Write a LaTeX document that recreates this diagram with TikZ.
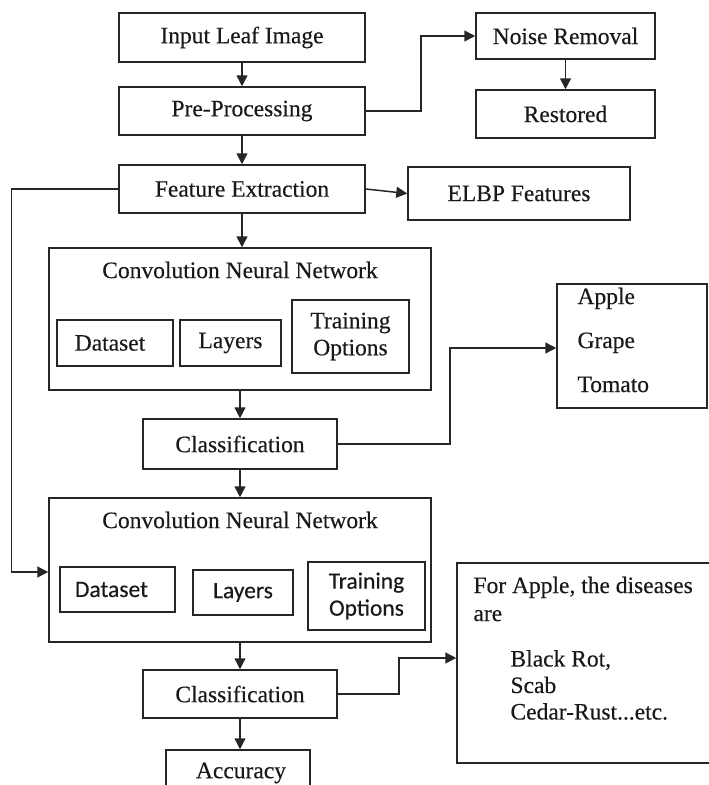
\documentclass[tikz,border=0pt]{standalone}
\usepackage{fontspec}
\setmainfont{Liberation Serif}[FakeBold=0.35]
\newfontfamily\calib{Carlito}[FakeBold=0.3]
\usetikzlibrary{arrows.meta}
\begin{document}
\begin{tikzpicture}[x=1pt,y=-1pt,
  txt/.style={font=\fontsize{23.5}{27}\selectfont, text=black!90},
  box/.style={draw=black!85, line width=1.5pt, inner sep=0pt, txt, align=center},
  conn/.style={draw=black!85, line width=1.5pt, -{Triangle[length=11pt,width=11pt]}},
  line/.style={draw=black!85, line width=1.5pt}]
\useasboundingbox (0,0) rectangle (709,785);
% top row
\node[box, minimum width=246pt, minimum height=49pt] (inp) at (242,37.5) {Input Leaf Image};
\node[box, minimum width=246pt, minimum height=48pt] (pre) at (242,111) {Pre-Processing};
\node[box, minimum width=179pt, minimum height=46pt] (noise) at (565.5,36) {Noise Removal};
\node[box, minimum width=179pt, minimum height=48pt] (rest) at (565.5,114) {Restored};
\node[box, minimum width=246pt, minimum height=48pt] (fe) at (242,189) {Feature Extraction};
\node[box, minimum width=222pt, minimum height=53pt] (elbp) at (519,193.5) {ELBP Features};
% CNN 1
\node[box, minimum width=382pt, minimum height=142pt] (cnn1) at (240,319) {};
\node[txt] (cnn1t) at (240,270) {Convolution Neural Network};
\node[box, minimum width=116pt, minimum height=46pt] (ds1) at (115,343) {\hspace*{-10pt}Dataset};
\node[box, minimum width=101pt, minimum height=46pt] (ly1) at (230.5,343) {Layers};
\node[box, minimum width=117pt, minimum height=73pt] (to1) at (350.5,336.5) {Training\\Options};
\node[box, minimum width=194pt, minimum height=50pt] (c1) at (240,444) {Classification};
\node[box, minimum width=150pt, minimum height=124pt] (apple) at (632,346) {};
\node[txt, anchor=west, align=left, font=\fontsize{23.5}{44}\selectfont] (appletxt) at (574,340) {Apple\\Grape\\Tomato};
% CNN 2
\node[box, minimum width=382pt, minimum height=144pt] (cnn2) at (240,570) {};
\node[txt] (cnn2t) at (240,520) {Convolution Neural Network};
\node[box, minimum width=115pt, minimum height=45pt, font=\calib\fontsize{23.5}{27}\selectfont] (ds2) at (117.5,589.5) {\hspace*{-12pt}Dataset};
\node[box, minimum width=100pt, minimum height=45pt, font=\calib\fontsize{23.5}{27}\selectfont] (ly2) at (243,592.5) {Layers};
\node[box, minimum width=117pt, minimum height=68pt, font=\calib\fontsize{23.5}{27}\selectfont] (to2) at (366.5,596) {Training\\Options};
\node[box, minimum width=194pt, minimum height=48pt] (c2) at (240,694) {Classification};
\node[box, minimum width=260pt, minimum height=200pt] (dis) at (587,663) {};
\node[txt, anchor=west, align=left, font=\fontsize{23.5}{28}\selectfont] (dis1) at (470,599) {For Apple, the diseases\\are};
\node[txt, anchor=west, align=left, font=\fontsize{23.5}{26.5}\selectfont] (dis2) at (507,685) {Black Rot,\\Scab\\Cedar-Rust...etc.};
\node[box, minimum width=144pt, minimum height=50pt] (acc) at (238,775) {};
\node[txt] (acct) at (241,773) {Accuracy};
% connectors
\draw[conn] (inp.south) -- (pre.north);
\draw[conn] (pre.south) -- (fe.north);
\draw[conn] (pre.east) -- ++(55,0) |- (noise.west);
\draw[conn] (noise.south) -- (rest.north);
\draw[conn] (fe.east) -- (elbp.west);
\draw[conn] (fe.south) -- (fe.south |- cnn1.north);
\draw[conn] (fe.west) -- ++(-107,0) |- ([yshift=-2pt]cnn2.west);
\draw[conn] (cnn1.south) -- (c1.north);
\draw[conn] (c1.east) -- ++(112,0) |- ([yshift=-2pt]apple.west);
\draw[conn] (c1.south) -- (cnn2.north);
\draw[conn] (cnn2.south) -- (c2.north);
\draw[conn] (c2.east) -- ++(61,0) |- ([yshift=5pt]dis.west);
\draw[conn] (c2.south) -- (c2.south |- acc.north);
\end{tikzpicture}
\end{document}
